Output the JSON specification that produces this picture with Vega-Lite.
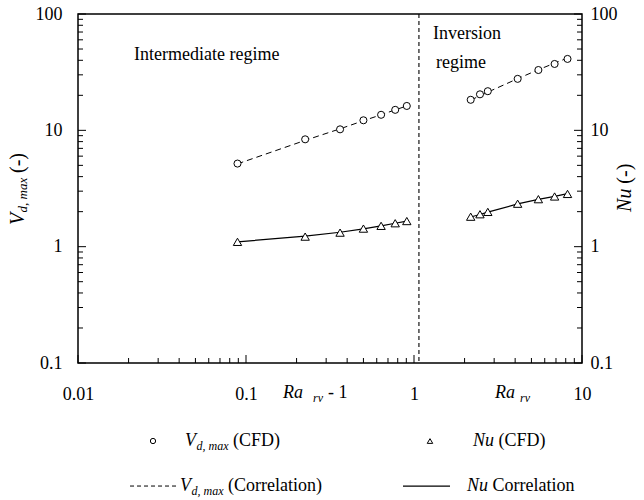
{
  "$schema": "https://vega.github.io/schema/vega-lite/v6.json",
  "width": 504,
  "height": 349,
  "autosize": "none",
  "padding": {"left": 78, "top": 14, "right": 62, "bottom": 137},
  "background": "white",
  "config": {
    "view": {"stroke": "black", "strokeWidth": 1.5},
    "font": "Liberation Serif, Times New Roman, Times, serif",
    "text": {"font": "Liberation Serif, Times New Roman, Times, serif", "color": "black"}
  },
  "datasets": {
    "cfd": [
      {"x": 0.089, "y": 5.18, "v": "Vd", "regime": "intermediate"},
      {"x": 0.225, "y": 8.37, "v": "Vd", "regime": "intermediate"},
      {"x": 0.363, "y": 10.2, "v": "Vd", "regime": "intermediate"},
      {"x": 0.5, "y": 12.2, "v": "Vd", "regime": "intermediate"},
      {"x": 0.637, "y": 13.6, "v": "Vd", "regime": "intermediate"},
      {"x": 0.773, "y": 15.0, "v": "Vd", "regime": "intermediate"},
      {"x": 0.906, "y": 16.2, "v": "Vd", "regime": "intermediate"},
      {"x": 2.175, "y": 18.3, "v": "Vd", "regime": "inversion"},
      {"x": 2.47, "y": 20.4, "v": "Vd", "regime": "inversion"},
      {"x": 2.75, "y": 21.7, "v": "Vd", "regime": "inversion"},
      {"x": 4.14, "y": 27.7, "v": "Vd", "regime": "inversion"},
      {"x": 5.5, "y": 33.0, "v": "Vd", "regime": "inversion"},
      {"x": 6.87, "y": 37.2, "v": "Vd", "regime": "inversion"},
      {"x": 8.2, "y": 41.1, "v": "Vd", "regime": "inversion"},
      {"x": 0.089, "y": 1.10, "v": "Nu", "regime": "intermediate"},
      {"x": 0.225, "y": 1.22, "v": "Nu", "regime": "intermediate"},
      {"x": 0.363, "y": 1.32, "v": "Nu", "regime": "intermediate"},
      {"x": 0.5, "y": 1.43, "v": "Nu", "regime": "intermediate"},
      {"x": 0.637, "y": 1.51, "v": "Nu", "regime": "intermediate"},
      {"x": 0.773, "y": 1.59, "v": "Nu", "regime": "intermediate"},
      {"x": 0.906, "y": 1.66, "v": "Nu", "regime": "intermediate"},
      {"x": 2.175, "y": 1.81, "v": "Nu", "regime": "inversion"},
      {"x": 2.47, "y": 1.90, "v": "Nu", "regime": "inversion"},
      {"x": 2.75, "y": 1.99, "v": "Nu", "regime": "inversion"},
      {"x": 4.14, "y": 2.34, "v": "Nu", "regime": "inversion"},
      {"x": 5.5, "y": 2.56, "v": "Nu", "regime": "inversion"},
      {"x": 6.87, "y": 2.70, "v": "Nu", "regime": "inversion"},
      {"x": 8.2, "y": 2.84, "v": "Nu", "regime": "inversion"}
    ],
    "corr": [
      {"x": 0.089, "y": 5.15, "v": "Vd", "regime": "intermediate"},
      {"x": 0.225, "y": 8.2, "v": "Vd", "regime": "intermediate"},
      {"x": 0.363, "y": 10.3, "v": "Vd", "regime": "intermediate"},
      {"x": 0.5, "y": 12.1, "v": "Vd", "regime": "intermediate"},
      {"x": 0.637, "y": 13.6, "v": "Vd", "regime": "intermediate"},
      {"x": 0.773, "y": 15.0, "v": "Vd", "regime": "intermediate"},
      {"x": 0.906, "y": 16.2, "v": "Vd", "regime": "intermediate"},
      {"x": 2.175, "y": 18.2, "v": "Vd", "regime": "inversion"},
      {"x": 2.47, "y": 19.8, "v": "Vd", "regime": "inversion"},
      {"x": 2.75, "y": 21.3, "v": "Vd", "regime": "inversion"},
      {"x": 4.14, "y": 27.8, "v": "Vd", "regime": "inversion"},
      {"x": 5.5, "y": 33.2, "v": "Vd", "regime": "inversion"},
      {"x": 6.87, "y": 37.8, "v": "Vd", "regime": "inversion"},
      {"x": 8.2, "y": 41.8, "v": "Vd", "regime": "inversion"},
      {"x": 0.089, "y": 1.10, "v": "Nu", "regime": "intermediate"},
      {"x": 0.225, "y": 1.23, "v": "Nu", "regime": "intermediate"},
      {"x": 0.363, "y": 1.33, "v": "Nu", "regime": "intermediate"},
      {"x": 0.5, "y": 1.42, "v": "Nu", "regime": "intermediate"},
      {"x": 0.637, "y": 1.51, "v": "Nu", "regime": "intermediate"},
      {"x": 0.773, "y": 1.59, "v": "Nu", "regime": "intermediate"},
      {"x": 0.906, "y": 1.66, "v": "Nu", "regime": "intermediate"},
      {"x": 2.175, "y": 1.80, "v": "Nu", "regime": "inversion"},
      {"x": 2.47, "y": 1.89, "v": "Nu", "regime": "inversion"},
      {"x": 2.75, "y": 1.98, "v": "Nu", "regime": "inversion"},
      {"x": 4.14, "y": 2.33, "v": "Nu", "regime": "inversion"},
      {"x": 5.5, "y": 2.55, "v": "Nu", "regime": "inversion"},
      {"x": 6.87, "y": 2.71, "v": "Nu", "regime": "inversion"},
      {"x": 8.2, "y": 2.86, "v": "Nu", "regime": "inversion"}
    ],
    "xmajor": [{"v": 0.01}, {"v": 0.1}, {"v": 1}, {"v": 10}],
    "xminor": [
      {"v": 0.02}, {"v": 0.03}, {"v": 0.04}, {"v": 0.05}, {"v": 0.06}, {"v": 0.07}, {"v": 0.08}, {"v": 0.09},
      {"v": 0.2}, {"v": 0.3}, {"v": 0.4}, {"v": 0.5}, {"v": 0.6}, {"v": 0.7}, {"v": 0.8}, {"v": 0.9},
      {"v": 2}, {"v": 3}, {"v": 4}, {"v": 5}, {"v": 6}, {"v": 7}, {"v": 8}, {"v": 9}
    ],
    "ymajor": [{"v": 0.1}, {"v": 1}, {"v": 10}, {"v": 100}],
    "yminor": [
      {"v": 0.2}, {"v": 0.3}, {"v": 0.4}, {"v": 0.5}, {"v": 0.6}, {"v": 0.7}, {"v": 0.8}, {"v": 0.9},
      {"v": 2}, {"v": 3}, {"v": 4}, {"v": 5}, {"v": 6}, {"v": 7}, {"v": 8}, {"v": 9},
      {"v": 20}, {"v": 30}, {"v": 40}, {"v": 50}, {"v": 60}, {"v": 70}, {"v": 80}, {"v": 90}
    ]
  },
  "layer": [
    {
      "data": {"values": [{"x": 1.07}]},
      "mark": {"type": "rule", "color": "black", "strokeWidth": 1.1, "strokeDash": [4, 3]},
      "encoding": {
        "x": {"field": "x", "type": "quantitative", "scale": {"type": "log", "domain": [0.01, 10], "nice": false}, "axis": null}
      }
    },
    {
      "data": {"name": "xmajor"},
      "mark": {"type": "tick", "orient": "vertical", "size": 8, "thickness": 1, "color": "black", "opacity": 1, "yOffset": -4},
      "encoding": {
        "x": {"field": "v", "type": "quantitative", "scale": {"type": "log", "domain": [0.01, 10], "nice": false}, "axis": null},
        "y": {"datum": 0.1, "type": "quantitative", "scale": {"type": "log", "domain": [0.1, 100], "nice": false}, "axis": null}
      }
    },
    {
      "data": {"name": "xminor"},
      "mark": {"type": "tick", "orient": "vertical", "size": 5, "thickness": 1, "color": "black", "opacity": 1, "yOffset": -2.5},
      "encoding": {
        "x": {"field": "v", "type": "quantitative", "axis": null},
        "y": {"datum": 0.1, "type": "quantitative", "axis": null}
      }
    },
    {
      "data": {"name": "ymajor"},
      "mark": {"type": "tick", "orient": "horizontal", "size": 8, "thickness": 1, "color": "black", "opacity": 1, "xOffset": 4},
      "encoding": {
        "x": {"datum": 0.01, "type": "quantitative", "axis": null},
        "y": {"field": "v", "type": "quantitative", "axis": null}
      }
    },
    {
      "data": {"name": "yminor"},
      "mark": {"type": "tick", "orient": "horizontal", "size": 5, "thickness": 1, "color": "black", "opacity": 1, "xOffset": 2.5},
      "encoding": {
        "x": {"datum": 0.01, "type": "quantitative", "axis": null},
        "y": {"field": "v", "type": "quantitative", "axis": null}
      }
    },
    {
      "data": {"name": "ymajor"},
      "mark": {"type": "tick", "orient": "horizontal", "size": 8, "thickness": 1, "color": "black", "opacity": 1, "xOffset": -4},
      "encoding": {
        "x": {"datum": 10, "type": "quantitative", "axis": null},
        "y": {"field": "v", "type": "quantitative", "axis": null}
      }
    },
    {
      "data": {"name": "yminor"},
      "mark": {"type": "tick", "orient": "horizontal", "size": 5, "thickness": 1, "color": "black", "opacity": 1, "xOffset": -2.5},
      "encoding": {
        "x": {"datum": 10, "type": "quantitative", "axis": null},
        "y": {"field": "v", "type": "quantitative", "axis": null}
      }
    },
    {
      "data": {"name": "corr"},
      "transform": [{"filter": "datum.v == 'Vd'"}],
      "mark": {"type": "line", "color": "black", "strokeWidth": 1, "strokeDash": [6, 4]},
      "encoding": {
        "x": {"field": "x", "type": "quantitative", "axis": null},
        "y": {"field": "y", "type": "quantitative", "axis": null},
        "detail": {"field": "regime"}
      }
    },
    {
      "data": {"name": "corr"},
      "transform": [{"filter": "datum.v == 'Nu'"}],
      "mark": {"type": "line", "color": "black", "strokeWidth": 1.2},
      "encoding": {
        "x": {"field": "x", "type": "quantitative", "axis": null},
        "y": {"field": "y", "type": "quantitative", "axis": null},
        "detail": {"field": "regime"}
      }
    },
    {
      "data": {"name": "cfd"},
      "transform": [{"filter": "datum.v == 'Vd'"}],
      "mark": {"type": "point", "shape": "circle", "size": 50, "filled": true, "fill": "white", "stroke": "black", "strokeWidth": 1, "opacity": 1},
      "encoding": {
        "x": {
          "field": "x", "type": "quantitative",
          "axis": {
            "orient": "bottom", "values": [0.01, 0.1, 1, 10], "title": null, "grid": false, "domain": false,
            "labelExpr": "datum.value == 0.01 ? '0.01' : datum.value == 0.1 ? '0.1' : datum.value == 1 ? '1' : '10'",
            "ticks": false, "labelPadding": 22, "labelFontSize": 18, "labelColor": "black",
            "labelFont": "Liberation Serif, Times New Roman, Times, serif", "labelOverlap": false, "labelFlush": false
          }
        },
        "y": {
          "field": "y", "type": "quantitative",
          "axis": {
            "orient": "left", "values": [0.1, 1, 10, 100], "title": null, "grid": false, "domain": false,
            "labelExpr": "datum.value == 0.1 ? '0.1' : datum.value == 1 ? '1' : datum.value == 10 ? '10' : '100'",
            "ticks": false, "labelPadding": 16, "labelFontSize": 18, "labelColor": "black",
            "labelFont": "Liberation Serif, Times New Roman, Times, serif", "labelOverlap": false, "labelFlush": false
          }
        }
      }
    },
    {
      "data": {"name": "cfd"},
      "transform": [{"filter": "datum.v == 'Nu'"}],
      "mark": {"type": "point", "shape": "triangle-up", "size": 70, "filled": true, "fill": "white", "stroke": "black", "strokeWidth": 1, "opacity": 1},
      "encoding": {
        "x": {"field": "x", "type": "quantitative", "axis": null},
        "y": {
          "field": "y", "type": "quantitative",
          "axis": {
            "orient": "right", "values": [0.1, 1, 10, 100], "title": null, "grid": false, "domain": false,
            "labelExpr": "datum.value == 0.1 ? '0.1' : datum.value == 1 ? '1' : datum.value == 10 ? '10' : '100'",
            "ticks": false, "labelPadding": 8, "labelFontSize": 18, "labelColor": "black",
            "labelFont": "Liberation Serif, Times New Roman, Times, serif", "labelOverlap": false, "labelFlush": false
          }
        }
      }
    },
    {
      "data": {"values": [{"x": 0.02795, "y": 0.02135}]},
      "mark": {"type": "point", "shape": "circle", "size": 28, "filled": false, "stroke": "black", "strokeWidth": 1, "opacity": 1},
      "encoding": {
        "x": {"field": "x", "type": "quantitative", "axis": null},
        "y": {"field": "y", "type": "quantitative", "axis": null}
      }
    },
    {
      "data": {"values": [{"x": 1.245, "y": 0.02135}]},
      "mark": {"type": "point", "shape": "triangle-up", "size": 30, "filled": false, "stroke": "black", "strokeWidth": 1, "opacity": 1},
      "encoding": {
        "x": {"field": "x", "type": "quantitative", "axis": null},
        "y": {"field": "y", "type": "quantitative", "axis": null}
      }
    },
    {
      "data": {"values": [{"x": 0.0204, "x2": 0.0388, "y": 0.008758}]},
      "mark": {"type": "rule", "color": "black", "strokeWidth": 1, "strokeDash": [4, 3]},
      "encoding": {
        "x": {"field": "x", "type": "quantitative", "axis": null},
        "x2": {"field": "x2"},
        "y": {"field": "y", "type": "quantitative", "axis": null}
      }
    },
    {
      "data": {"values": [{"x": 0.86, "x2": 1.638, "y": 0.008758}]},
      "mark": {"type": "rule", "color": "black", "strokeWidth": 1.2},
      "encoding": {
        "x": {"field": "x", "type": "quantitative", "axis": null},
        "x2": {"field": "x2"},
        "y": {"field": "y", "type": "quantitative", "axis": null}
      }
    },
    {
      "data": {"values": [
        {"t": "V", "x": 0.04334, "y": 0.02135},
        {"t": "V", "x": 0.04047, "y": 0.008758},
        {"t": "Nu", "x": 2.245, "y": 0.02135},
        {"t": "Nu", "x": 2.068, "y": 0.008758},
        {"t": "Ra", "x": 0.1661, "y": 0.0552},
        {"t": "Ra", "x": 3.034, "y": 0.0552}
      ]},
      "mark": {"type": "text", "font": "Liberation Serif, Times New Roman, Times, serif", "fontStyle": "italic", "fontSize": 18, "align": "left", "baseline": "middle", "color": "black"},
      "encoding": {
        "x": {"field": "x", "type": "quantitative", "axis": null},
        "y": {"field": "y", "type": "quantitative", "axis": null},
        "text": {"field": "t"}
      }
    },
    {
      "data": {"values": [
        {"t": "d, max", "x": 0.05073, "y": 0.02135},
        {"t": "d, max", "x": 0.0474, "y": 0.008758},
        {"t": "rv", "x": 0.2505, "y": 0.0552},
        {"t": "rv", "x": 4.276, "y": 0.0552}
      ]},
      "mark": {"type": "text", "font": "Liberation Serif, Times New Roman, Times, serif", "fontStyle": "italic", "fontSize": 12, "align": "left", "baseline": "middle", "dy": 5, "color": "black"},
      "encoding": {
        "x": {"field": "x", "type": "quantitative", "axis": null},
        "y": {"field": "y", "type": "quantitative", "axis": null},
        "text": {"field": "t"}
      }
    },
    {
      "data": {"values": [
        {"t": "(CFD)", "x": 0.08368, "y": 0.02135},
        {"t": "(Correlation)", "x": 0.07812, "y": 0.008758},
        {"t": "(CFD)", "x": 3.184, "y": 0.02135},
        {"t": "Correlation", "x": 2.933, "y": 0.008758},
        {"t": "- 1", "x": 0.3076, "y": 0.0552},
        {"t": "Intermediate regime", "x": 0.02154, "y": 44.5},
        {"t": "Inversion", "x": 1.297, "y": 67.4},
        {"t": "regime", "x": 1.352, "y": 37.97}
      ]},
      "mark": {"type": "text", "font": "Liberation Serif, Times New Roman, Times, serif", "fontSize": 18, "align": "left", "baseline": "middle", "color": "black"},
      "encoding": {
        "x": {"field": "x", "type": "quantitative", "axis": null},
        "y": {"field": "y", "type": "quantitative", "axis": null},
        "text": {"field": "t"}
      }
    },
    {
      "data": {"values": [
        {"t": "V", "x": 0.004395, "y": 1.537},
        {"t": "Nu", "x": 18.03, "y": 1.988}
      ]},
      "mark": {"type": "text", "font": "Liberation Serif, Times New Roman, Times, serif", "fontStyle": "italic", "fontSize": 20, "align": "left", "baseline": "middle", "angle": 270, "color": "black"},
      "encoding": {
        "x": {"field": "x", "type": "quantitative", "axis": null},
        "y": {"field": "y", "type": "quantitative", "axis": null},
        "text": {"field": "t"}
      }
    },
    {
      "data": {"values": [
        {"t": "d, max", "x": 0.004395, "y": 1.968}
      ]},
      "mark": {"type": "text", "font": "Liberation Serif, Times New Roman, Times, serif", "fontStyle": "italic", "fontSize": 13, "align": "left", "baseline": "middle", "angle": 270, "dy": 5, "color": "black"},
      "encoding": {
        "x": {"field": "x", "type": "quantitative", "axis": null},
        "y": {"field": "y", "type": "quantitative", "axis": null},
        "text": {"field": "t"}
      }
    },
    {
      "data": {"values": [
        {"t": "(-)", "x": 0.004395, "y": 4.302},
        {"t": "(-)", "x": 18.03, "y": 3.481}
      ]},
      "mark": {"type": "text", "font": "Liberation Serif, Times New Roman, Times, serif", "fontSize": 20, "align": "left", "baseline": "middle", "angle": 270, "color": "black"},
      "encoding": {
        "x": {"field": "x", "type": "quantitative", "axis": null},
        "y": {"field": "y", "type": "quantitative", "axis": null},
        "text": {"field": "t"}
      }
    }
  ],
  "resolve": {"axis": {"x": "independent", "y": "independent"}}
}
